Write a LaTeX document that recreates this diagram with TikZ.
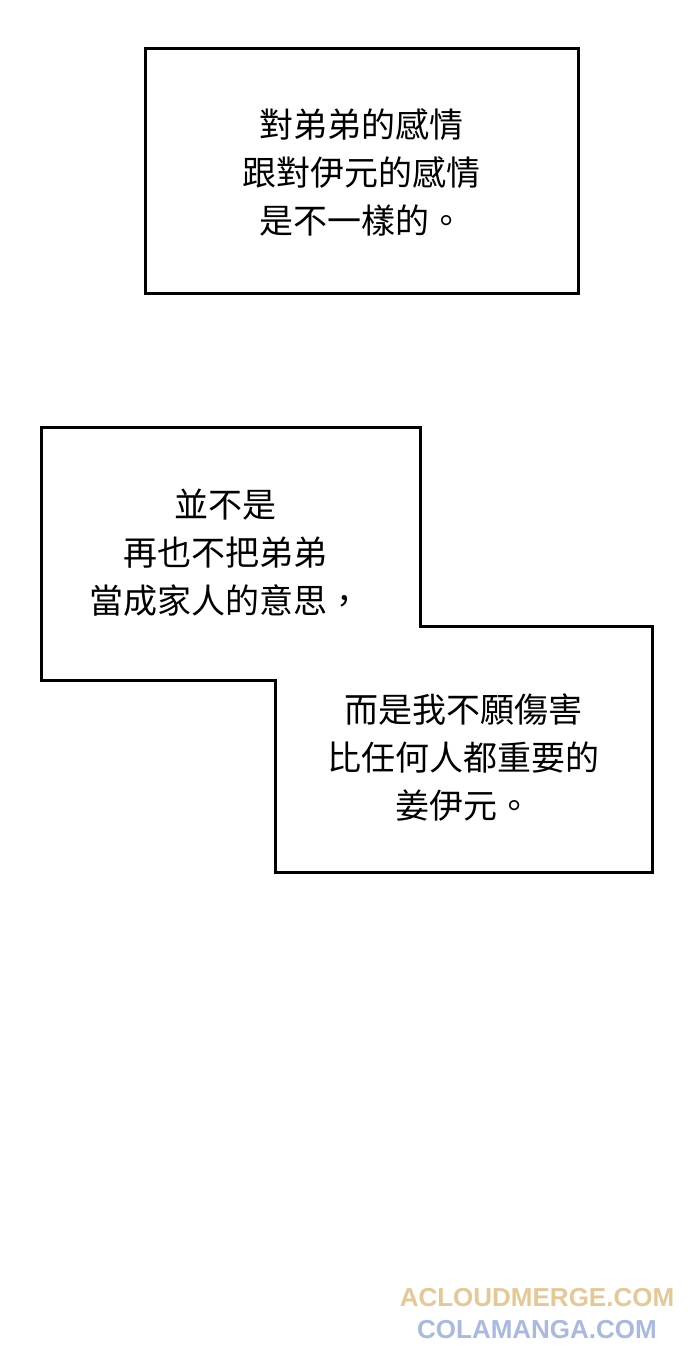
\documentclass[tikz,border=0pt]{standalone}
\usepackage{fontspec}
\newfontfamily\cjk{Noto Sans CJK TC}
\setmainfont{Liberation Sans}
\definecolor{wmA}{RGB}{230,200,150}
\definecolor{wmB}{RGB}{170,185,225}
\tikzset{box/.style={draw=black,line width=3pt,fill=white},
txt/.style={font=\cjk\fontsize{34pt}{48pt}\selectfont,align=center,text=black},
wm/.style={font=\bfseries\fontsize{26pt}{30pt}\selectfont,anchor=center}}
\begin{document}
\begin{tikzpicture}[x=1pt,y=-1pt]
\useasboundingbox[fill=white] (0,0) rectangle (690,1351);
\draw[box] (145,49) rectangle (578,293);
\node[txt] (t1) at (361,172) {對弟弟的感情\\跟對伊元的感情\\是不一樣的。};
\draw[box] (41,427) -- (420,427) -- (420,626) -- (652,626) -- (652,872) -- (275,872) -- (275,680) -- (41,680) -- cycle;
\node[txt] (t2) at (225,553) {並不是\\再也不把弟弟\\當成家人的意思，};
\node[txt] (t3) at (463,757) {而是我不願傷害\\比任何人都重要的\\姜伊元。};
\node[wm,text=wmA] (w1) at (537,1298) {ACLOUDMERGE.COM};
\node[wm,text=wmB] (w2) at (537,1330) {COLAMANGA.COM};
\end{tikzpicture}
\end{document}
